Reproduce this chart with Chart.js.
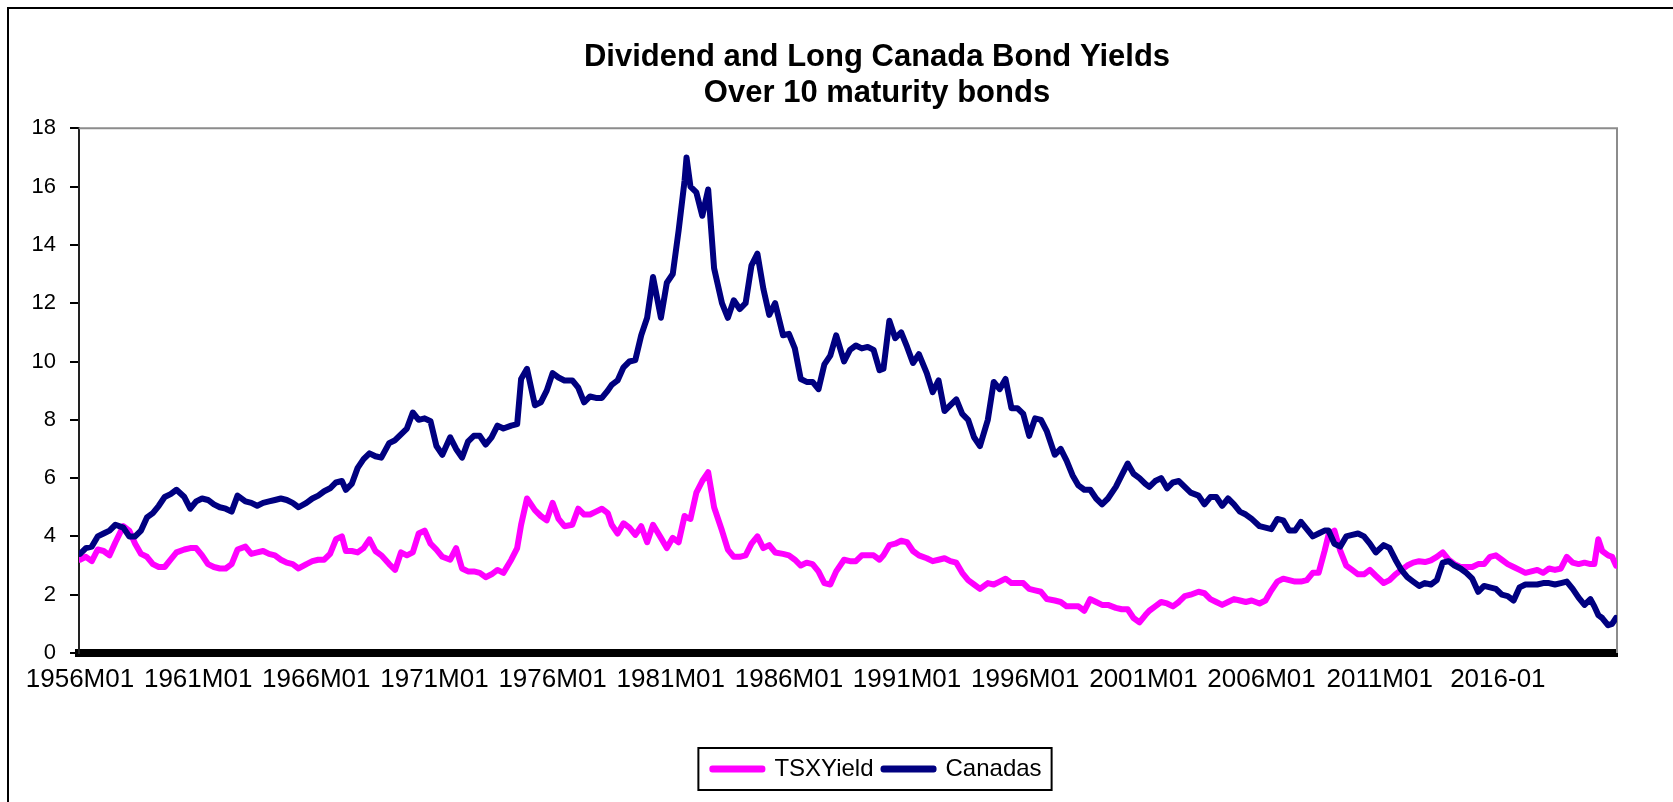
<!DOCTYPE html>
<html>
<head>
<meta charset="utf-8">
<script src="https://cdn.jsdelivr.net/npm/chart.js@4.4.1/dist/chart.umd.min.js"></script>
<style>
    html, body { margin: 0; padding: 0; background: #fff; overflow: hidden; }
    #frame {
        position: absolute;
        left: 7px;
        top: 7px;
        width: 1736px;
        height: 820px;
        border: 2px solid #000;
    }
    #chart { display: block; }
</style>
</head>
<body>
<div id="frame">
    <canvas id="chart" width="1736" height="790"></canvas>
</div>
<script>
// months counted from 1956M01
let sampleMonth = [
    0, 3, 6, 9, 12, 15, 18, 22, 25, 28, 31, 34, 37, 40, 43, 46, 49, 53, 56, 59,
    62, 65, 68, 71, 74, 77, 80, 84, 87, 90, 93, 96, 99, 102, 105, 108, 111, 115, 118, 121,
    124, 127, 130, 133, 135, 138, 141, 144, 147, 150, 153, 157, 160, 163, 166, 169, 172, 175, 178, 181,
    184, 188, 191, 194, 197, 200, 203, 206, 209, 212, 215, 219, 222, 224, 227, 231, 234, 237, 240, 243,
    246, 250, 253, 256, 259, 262, 265, 268, 270, 273, 276, 279, 282, 285, 288, 291, 295, 298, 301, 304,
    307, 308, 310, 313, 316, 319, 322, 326, 329, 332, 335, 338, 341, 344, 347, 350, 353, 357, 360, 363,
    366, 369, 372, 375, 378, 381, 384, 388, 391, 394, 397, 400, 403, 406, 408, 411, 414, 417, 420, 423,
    426, 430, 433, 436, 439, 442, 445, 448, 451, 454, 457, 461, 464, 467, 470, 473, 476, 479, 482, 485,
    488, 491, 495, 498, 501, 504, 507, 510, 513, 516, 519, 522, 526, 529, 532, 535, 538, 541, 543, 546,
    549, 552, 555, 558, 561, 564, 568, 571, 574, 577, 580, 583, 586, 589, 592, 595, 599, 602, 605, 608,
    611, 614, 617, 620, 623, 626, 629, 632, 634, 637, 640, 643, 646, 649, 652, 655, 658, 662, 665, 668,
    671, 674, 677, 680, 683, 686, 689, 692, 695, 698, 701, 704, 707, 710, 713, 716, 719, 722, 725, 728,
    731, 734, 737, 740, 743, 746, 749, 752, 755, 758, 761, 764, 767, 769, 771, 773, 776, 778, 780
];

let tsxYield = [
    3.2, 3.3, 3.15, 3.55, 3.5, 3.35, 3.8, 4.35, 4.2, 3.75, 3.4, 3.3, 3.05, 2.95, 2.95, 3.2, 3.45, 3.55, 3.6, 3.6,
    3.35, 3.05, 2.95, 2.9, 2.9, 3.05, 3.55, 3.65, 3.4, 3.45, 3.5, 3.4, 3.35, 3.2, 3.1, 3.05, 2.9, 3.05, 3.15, 3.2,
    3.2, 3.4, 3.9, 4.0, 3.5, 3.5, 3.45, 3.6, 3.9, 3.5, 3.35, 3.05, 2.85, 3.45, 3.35, 3.45, 4.1, 4.2, 3.75, 3.55,
    3.3, 3.2, 3.6, 2.9, 2.8, 2.8, 2.75, 2.6, 2.7, 2.85, 2.75, 3.2, 3.6, 4.4, 5.3, 4.9, 4.7, 4.55, 5.15, 4.6,
    4.35, 4.4, 4.95, 4.75, 4.75, 4.85, 4.95, 4.8, 4.4, 4.1, 4.45, 4.3, 4.05, 4.35, 3.8, 4.4, 3.95, 3.6, 3.95, 3.8,
    4.7, 4.65, 4.6, 5.5, 5.9, 6.2, 5.0, 4.2, 3.55, 3.3, 3.3, 3.35, 3.75, 4.0, 3.6, 3.7, 3.45, 3.4, 3.35, 3.2,
    3.0, 3.1, 3.05, 2.8, 2.4, 2.35, 2.8, 3.2, 3.15, 3.15, 3.35, 3.35, 3.35, 3.2, 3.35, 3.7, 3.75, 3.85, 3.8, 3.5,
    3.35, 3.25, 3.15, 3.2, 3.25, 3.15, 3.1, 2.75, 2.5, 2.35, 2.2, 2.4, 2.35, 2.45, 2.55, 2.4, 2.4, 2.4, 2.2, 2.15,
    2.1, 1.85, 1.8, 1.75, 1.6, 1.6, 1.6, 1.45, 1.85, 1.75, 1.65, 1.65, 1.55, 1.5, 1.5, 1.2, 1.05, 1.3, 1.45, 1.6,
    1.75, 1.7, 1.6, 1.75, 1.95, 2.0, 2.1, 2.05, 1.85, 1.75, 1.65, 1.75, 1.85, 1.8, 1.75, 1.8, 1.7, 1.8, 2.15, 2.45,
    2.55, 2.5, 2.45, 2.45, 2.5, 2.75, 2.75, 3.5, 4.05, 4.2, 3.5, 3.0, 2.85, 2.7, 2.7, 2.85, 2.65, 2.4, 2.5, 2.7,
    2.85, 3.0, 3.1, 3.15, 3.12, 3.18, 3.3, 3.45, 3.2, 3.05, 2.95, 2.95, 2.95, 3.05, 3.05, 3.3, 3.35, 3.2, 3.05, 2.95,
    2.85, 2.75, 2.8, 2.85, 2.75, 2.9, 2.85, 2.9, 3.3, 3.1, 3.05, 3.1, 3.05, 3.05, 3.9, 3.5, 3.35, 3.3, 3.0
];

let canadas = [
    3.4, 3.6, 3.65, 4.0, 4.1, 4.2, 4.4, 4.3, 4.0, 4.0, 4.2, 4.65, 4.8, 5.05, 5.35, 5.45, 5.6, 5.35, 4.95, 5.2,
    5.3, 5.25, 5.1, 5.0, 4.95, 4.85, 5.4, 5.2, 5.15, 5.05, 5.15, 5.2, 5.25, 5.3, 5.25, 5.15, 5.0, 5.15, 5.3, 5.4,
    5.55, 5.65, 5.85, 5.9, 5.6, 5.8, 6.35, 6.65, 6.85, 6.75, 6.7, 7.2, 7.3, 7.5, 7.7, 8.25, 8.0, 8.05, 7.95, 7.1,
    6.8, 7.4, 7.0, 6.7, 7.25, 7.45, 7.45, 7.15, 7.4, 7.8, 7.7, 7.8, 7.85, 9.4, 9.75, 8.5, 8.6, 9.0, 9.6, 9.45,
    9.35, 9.35, 9.1, 8.6, 8.8, 8.75, 8.75, 9.0, 9.2, 9.35, 9.8, 10.0, 10.05, 10.9, 11.5, 12.9, 11.5, 12.7, 13.0, 14.5,
    16.2, 17.0, 16.0, 15.8, 15.0, 15.9, 13.2, 12.0, 11.5, 12.1, 11.8, 12.0, 13.3, 13.7, 12.5, 11.6, 12.0, 10.9, 10.95, 10.45,
    9.4, 9.3, 9.3, 9.05, 9.9, 10.2, 10.9, 10.0, 10.4, 10.55, 10.45, 10.5, 10.4, 9.7, 9.75, 11.4, 10.8, 11.0, 10.5, 9.95,
    10.25, 9.6, 8.95, 9.35, 8.3, 8.5, 8.7, 8.2, 8.0, 7.4, 7.1, 8.0, 9.3, 9.05, 9.4, 8.4, 8.4, 8.2, 7.45, 8.05,
    8.0, 7.6, 6.8, 7.0, 6.6, 6.1, 5.75, 5.6, 5.6, 5.3, 5.1, 5.3, 5.7, 6.1, 6.5, 6.15, 6.0, 5.8, 5.7, 5.9,
    6.0, 5.65, 5.85, 5.9, 5.7, 5.5, 5.4, 5.1, 5.35, 5.35, 5.05, 5.3, 5.1, 4.85, 4.75, 4.6, 4.35, 4.3, 4.25, 4.6,
    4.55, 4.2, 4.2, 4.5, 4.25, 4.0, 4.1, 4.2, 4.2, 3.75, 3.65, 4.0, 4.05, 4.1, 4.0, 3.75, 3.45, 3.7, 3.6, 3.2,
    2.85, 2.6, 2.45, 2.3, 2.4, 2.35, 2.5, 3.1, 3.15, 3.0, 2.9, 2.75, 2.55, 2.1, 2.3, 2.25, 2.2, 2.0, 1.95, 1.8,
    2.25, 2.35, 2.35, 2.35, 2.4, 2.4, 2.35, 2.4, 2.45, 2.2, 1.9, 1.65, 1.85, 1.6, 1.3, 1.2, 0.95, 1.0, 1.2
];

let tickLabels = [
    '1956M01', '1961M01', '1966M01', '1971M01', '1976M01', '1981M01', '1986M01',
    '1991M01', '1996M01', '2001M01', '2006M01', '2011M01', '2016-01'
];

let lastMonth = 780;

function points(values) {
    return values.map((v, i) => ({ x: sampleMonth[i], y: v }));
}

// grey plot-area border on top and right, like the spreadsheet chart
let plotBorder = {
    id: 'plotBorder',
    beforeDatasetsDraw(chart) {
        let ctx = chart.ctx;
        let a = chart.chartArea;
        ctx.save();
        ctx.strokeStyle = '#8c8c8c';
        ctx.lineWidth = 2;
        ctx.beginPath();
        ctx.moveTo(a.left, a.top);
        ctx.lineTo(a.right, a.top);
        ctx.lineTo(a.right, a.bottom);
        ctx.stroke();
        ctx.restore();
    }
};

// box around the legend items
let legendFrame = {
    id: 'legendFrame',
    afterDraw(chart) {
        let legend = chart.legend;
        let boxes = legend.legendHitBoxes;
        if (!boxes || !boxes.length) return;
        let first = boxes[0];
        let last = boxes[boxes.length - 1];
        let ctx = chart.ctx;
        ctx.save();
        ctx.strokeStyle = '#000';
        ctx.lineWidth = 2;
        ctx.strokeRect(first.left - 14, legend.top + 1, last.left + last.width - first.left + 24, legend.bottom - legend.top - 2);
        ctx.restore();
    }
};

function main() {
    Chart.defaults.font.family = "'Liberation Sans', Arial, sans-serif";
    Chart.defaults.color = '#000';

    new Chart(document.getElementById('chart'), {
        type: 'line',
        data: {
            datasets: [{
                label: 'TSXYield',
                data: points(tsxYield),
                borderColor: '#ff00ff',
                backgroundColor: '#ff00ff',
                borderWidth: 6,
                borderJoinStyle: 'round',
                borderCapStyle: 'round',
                pointRadius: 0,
                tension: 0,
                order: 1
            }, {
                label: 'Canadas',
                data: points(canadas),
                borderColor: '#000080',
                backgroundColor: '#000080',
                borderWidth: 6,
                borderJoinStyle: 'round',
                borderCapStyle: 'round',
                pointRadius: 0,
                tension: 0,
                order: 0
            }]
        },
        options: {
            responsive: false,
            animation: false,
            layout: { padding: { left: 0, right: 0, top: 0, bottom: 8 } },
            plugins: {
                title: {
                    display: true,
                    text: ['Dividend and Long Canada Bond Yields', 'Over 10 maturity bonds'],
                    font: { size: 31, weight: 'bold', lineHeight: 1.15 },
                    color: '#000',
                    padding: { top: 31, bottom: 17 }
                },
                legend: {
                    position: 'bottom',
                    labels: {
                        boxWidth: 50,
                        boxHeight: 1,
                        padding: 10,
                        font: { size: 24 },
                        color: '#000',
                        sort: (a, b) => a.datasetIndex - b.datasetIndex
                    }
                },
                tooltip: { enabled: false }
            },
            scales: {
                x: {
                    type: 'linear',
                    min: -0.5,
                    max: lastMonth + 0.5,
                    afterBuildTicks: (scale) => {
                        scale.ticks = tickLabels.map((_, i) => ({ value: i * 60 }));
                    },
                    afterFit: (scale) => { scale.height = 94; },
                    ticks: {
                        autoSkip: false,
                        maxRotation: 0,
                        minRotation: 0,
                        padding: 3,
                        font: { size: 26 },
                        color: '#000',
                        callback: (value, index) => tickLabels[index]
                    },
                    grid: { display: false },
                    border: { display: true, color: '#000', width: 8 }
                },
                y: {
                    min: 0,
                    max: 18,
                    afterFit: (scale) => { scale.width = 70; },
                    ticks: {
                        stepSize: 2,
                        padding: 14,
                        font: { size: 22 },
                        color: '#000'
                    },
                    grid: {
                        display: true,
                        drawOnChartArea: false,
                        drawTicks: true,
                        tickLength: 9,
                        color: '#000',
                        lineWidth: 2
                    },
                    border: { display: true, color: '#222', width: 2 }
                },
                spacer: {
                    axis: 'y',
                    position: 'right',
                    display: true,
                    afterFit: (scale) => { scale.width = 128; },
                    ticks: { display: false },
                    grid: { display: false },
                    border: { display: false }
                }
            }
        },
        plugins: [plotBorder, legendFrame]
    });
}

main();
</script>
</body>
</html>
